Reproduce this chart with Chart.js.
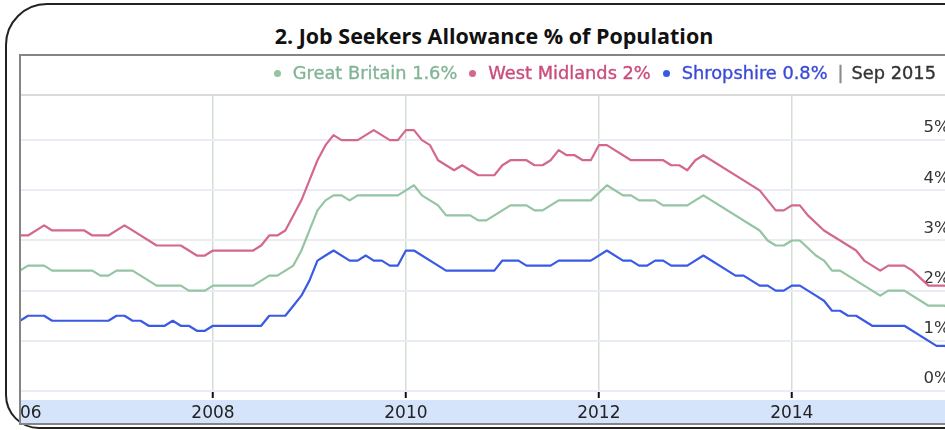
<!DOCTYPE html>
<html>
<head>
<meta charset="utf-8">
<title>Job Seekers Allowance % of Population</title>
<script src="https://cdn.jsdelivr.net/npm/chart.js@4.4.1/dist/chart.umd.min.js"></script>
<style>
  html, body { margin: 0; padding: 0; background: #fff; }
  body { width: 945px; height: 430px; overflow: hidden; position: relative; }
  .frame {
    position: absolute; left: 5px; top: 3px; width: 1100px; height: 422px;
    border: 2px solid #222; border-top-left-radius: 42px; border-bottom-left-radius: 34px;
  }
  .title {
    position: absolute; left: 0; top: 21px; width: 988px; text-align: center;
    font: bold 21.5px "Open Sans", "Liberation Sans", sans-serif; color: #111;
  }
  .box {
    position: absolute; left: 19px; top: 54px; width: 1100px; height: 367px;
    border: 2px solid #858585; overflow: hidden; background: #fff;
  }
  .sep { position: absolute; left: 0; right: 0; top: 38px; height: 2px; background: #dadada; }
  .band { position: absolute; left: 0; right: 0; top: 344px; height: 23px; background: #d5e3fb; }
  .box canvas { position: absolute; left: -21px; top: -56px; }
  .legend {
    position: absolute; right: 9px; top: 62px; display: flex; align-items: center;
    font: 17.8px "DejaVu Sans", Verdana, sans-serif; line-height: 22px; white-space: nowrap;
    -webkit-text-stroke: 0.35px currentColor;
  }
  .legend .item { display: flex; align-items: center; margin-left: 12px; }
  .legend .dot { width: 7px; height: 7px; border-radius: 50%; margin-right: 12px; }
  .legend .bar { color: #8a8a8a; margin: 0 8px 0 10px; }
  .legend .period { color: #333; }
</style>
</head>
<body>
<div class="frame"></div>
<div class="title">2. Job Seekers Allowance % of Population</div>
<div class="box">
  <div class="sep"></div>
  <div class="band"></div>
  <canvas id="jsaChart" width="1000" height="430"></canvas>
</div>
<div class="legend" id="legend"></div>

<script>
// Claimant rate, % of working-age population, monthly (only the turning points)
const seriesNames = ['Great Britain', 'West Midlands', 'Shropshire'];
const latestValues = [1.6, 2, 0.8];
const latestPeriod = 'Sep 2015';
const lineColors = ['#94c4a2', '#d4688c', '#3a5ae6'];
const textColors = ['#82b596', '#c94c7c', '#3a4ad8'];

const gbDates = ['2006-01','2006-02','2006-04','2006-05','2006-10','2006-11','2006-12','2007-01','2007-03','2007-06',
  '2007-09','2007-10','2007-12','2008-01','2008-06','2008-08','2008-09','2008-10','2008-11','2008-12',
  '2009-01','2009-02','2009-03','2009-04','2009-05','2009-06','2009-07','2009-12','2010-01','2010-02',
  '2010-03','2010-05','2010-06','2010-09','2010-10','2010-11','2011-02','2011-04','2011-05','2011-06',
  '2011-08','2011-12','2012-02','2012-04','2012-05','2012-06','2012-08','2012-09','2012-12','2013-02',
  '2013-09','2013-10','2013-11','2013-12','2014-01','2014-02','2014-04','2014-05','2014-06','2014-07',
  '2014-12','2015-01','2015-03','2015-06','2015-08','2015-09'];
const gbValues = [2.4,2.5,2.5,2.4,2.4,2.3,2.3,2.4,2.4,2.1,
  2.1,2.0,2.0,2.1,2.1,2.3,2.3,2.4,2.5,2.8,
  3.2,3.6,3.8,3.9,3.9,3.8,3.9,3.9,4.0,4.1,
  3.9,3.7,3.5,3.5,3.4,3.4,3.7,3.7,3.6,3.6,
  3.8,3.8,4.1,3.9,3.9,3.8,3.8,3.7,3.7,3.9,
  3.2,3.0,2.9,2.9,3.0,3.0,2.7,2.6,2.4,2.4,
  1.9,2.0,2.0,1.7,1.7,1.6];

const wmDates = ['2006-01','2006-02','2006-04','2006-05','2006-09','2006-10','2006-12','2007-02','2007-06','2007-09',
  '2007-11','2007-12','2008-01','2008-06','2008-07','2008-08','2008-09','2008-10','2008-11','2008-12',
  '2009-01','2009-02','2009-03','2009-04','2009-05','2009-07','2009-09','2009-11','2009-12','2010-01',
  '2010-02','2010-03','2010-04','2010-05','2010-07','2010-08','2010-10','2010-12','2011-01','2011-02',
  '2011-04','2011-05','2011-06','2011-07','2011-08','2011-09','2011-10','2011-11','2011-12','2012-01',
  '2012-02','2012-05','2012-09','2012-10','2012-11','2012-12','2013-01','2013-02','2013-09','2013-11',
  '2013-12','2014-01','2014-02','2014-03','2014-05','2014-09','2014-10','2014-12','2015-01','2015-03',
  '2015-04','2015-06','2015-08','2015-09'];
const wmValues = [3.1,3.1,3.3,3.2,3.2,3.1,3.1,3.3,2.9,2.9,
  2.7,2.7,2.8,2.8,2.9,3.1,3.1,3.2,3.5,3.8,
  4.2,4.6,4.9,5.1,5.0,5.0,5.2,5.0,5.0,5.2,
  5.2,5.0,4.9,4.6,4.4,4.5,4.3,4.3,4.5,4.6,
  4.6,4.5,4.5,4.6,4.8,4.7,4.7,4.6,4.6,4.9,
  4.9,4.6,4.6,4.5,4.5,4.4,4.6,4.7,4.0,3.6,
  3.6,3.7,3.7,3.5,3.2,2.8,2.6,2.4,2.5,2.5,
  2.4,2.1,2.1,2.0];

const shDates = ['2006-01','2006-02','2006-04','2006-05','2006-12','2007-01','2007-02','2007-03','2007-04','2007-05',
  '2007-07','2007-08','2007-09','2007-10','2007-11','2007-12','2008-01','2008-07','2008-08','2008-10',
  '2008-11','2008-12','2009-01','2009-02','2009-03','2009-04','2009-06','2009-07','2009-08','2009-09',
  '2009-10','2009-11','2009-12','2010-01','2010-02','2010-06','2010-12','2011-01','2011-03','2011-04',
  '2011-07','2011-08','2011-12','2012-02','2012-04','2012-05','2012-06','2012-07','2012-08','2012-09',
  '2012-10','2012-12','2013-02','2013-06','2013-07','2013-09','2013-10','2013-11','2013-12','2014-01',
  '2014-02','2014-04','2014-05','2014-06','2014-07','2014-08','2014-09','2014-11','2015-03','2015-07',
  '2015-08','2015-09'];
const shValues = [1.4,1.5,1.5,1.4,1.4,1.5,1.5,1.4,1.4,1.3,
  1.3,1.4,1.3,1.3,1.2,1.2,1.3,1.3,1.5,1.5,
  1.7,1.9,2.2,2.6,2.7,2.8,2.6,2.6,2.7,2.6,
  2.6,2.5,2.5,2.8,2.8,2.4,2.4,2.6,2.6,2.5,
  2.5,2.6,2.6,2.8,2.6,2.6,2.5,2.5,2.6,2.6,
  2.5,2.5,2.7,2.3,2.3,2.1,2.1,2.0,2.0,2.1,
  2.1,1.9,1.8,1.6,1.6,1.5,1.5,1.3,1.3,0.9,
  0.9,0.8];

const xStart = '2006-01';
const xEnd = '2015-09';
const xTickStep = 2;     // years between labelled ticks
const yTickValues = [0, 1, 2, 3, 4, 5];
const yTop = 5.9;

// 'YYYY-MM' -> fractional year for the linear x axis
function toYear(s) {
    const parts = s.split('-');
    return parseInt(parts[0], 10) + (parseInt(parts[1], 10) - 1) / 12;
}

function points(dates, values) {
    return dates.map(function(d, i) { return { x: toYear(d), y: values[i] }; });
}

function buildLegend() {
    const el = document.getElementById('legend');
    seriesNames.forEach(function(name, i) {
        const item = document.createElement('span');
        item.className = 'item';
        const dot = document.createElement('span');
        dot.className = 'dot';
        dot.style.background = lineColors[i];
        const txt = document.createElement('span');
        txt.style.color = textColors[i];
        txt.textContent = name + ' ' + latestValues[i] + '%';
        item.appendChild(dot);
        item.appendChild(txt);
        el.appendChild(item);
    });
    const bar = document.createElement('span');
    bar.className = 'bar';
    bar.textContent = '|';
    el.appendChild(bar);
    const per = document.createElement('span');
    per.className = 'period';
    per.textContent = latestPeriod;
    el.appendChild(per);
}

function createChart() {
    const ctx = document.getElementById('jsaChart').getContext('2d');
    const allSeries = [points(gbDates, gbValues), points(wmDates, wmValues), points(shDates, shValues)];

    new Chart(ctx, {
        type: 'line',
        data: {
            datasets: allSeries.map(function(data, i) {
                return {
                    label: seriesNames[i],
                    data: data,
                    borderColor: lineColors[i],
                    borderWidth: 2.2,
                    pointRadius: 0,
                    tension: 0,
                    fill: false,
                    borderJoinStyle: 'round'
                };
            })
        },
        options: {
            responsive: false,
            animation: false,
            devicePixelRatio: 1,
            layout: { padding: { left: 20, top: 95, right: 47.4, bottom: 6 } },
            plugins: {
                legend: { display: false },
                title: { display: false },
                tooltip: { enabled: false }
            },
            scales: {
                x: {
                    type: 'linear',
                    min: toYear(xStart),
                    max: toYear(xEnd),
                    border: { display: false },
                    grid: {
                        color: '#d3ded3',
                        lineWidth: 1.5,
                        drawTicks: true,
                        tickLength: 7,
                        tickColor: '#111',
                        tickWidth: 2
                    },
                    ticks: {
                        stepSize: xTickStep,
                        includeBounds: false,
                        autoSkip: false,
                        maxRotation: 0,
                        padding: 5,
                        color: '#222',
                        font: { family: "'DejaVu Sans', Verdana, sans-serif", size: 17 },
                        callback: function(value) { return String(value); }
                    },
                    afterFit: function(scale) {
                        scale.height = 33;
                        scale.paddingLeft = 0;
                        scale.paddingRight = 0;
                    }
                },
                y: {
                    position: 'right',
                    min: 0,
                    max: yTop,
                    border: { display: false },
                    grid: { color: '#ebebf5', lineWidth: 2, drawTicks: false },
                    afterBuildTicks: function(scale) {
                        scale.ticks = yTickValues.map(function(v) { return { value: v }; });
                    },
                    ticks: {
                        mirror: true,
                        padding: -3,
                        labelOffset: -12,
                        color: '#333',
                        font: { family: "'DejaVu Sans', Verdana, sans-serif", size: 16.5 },
                        callback: function(value) { return value + '%'; }
                    },
                    afterFit: function(scale) {
                        scale.width = 0;
                        scale.paddingTop = 0;
                        scale.paddingBottom = 0;
                    }
                }
            }
        }
    });
}

buildLegend();
createChart();
</script>
</body>
</html>
